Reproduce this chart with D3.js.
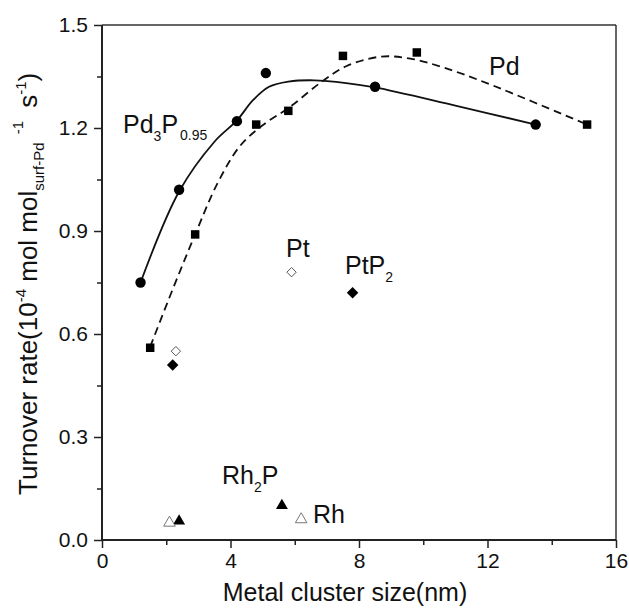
<!DOCTYPE html>
<html><head><meta charset="utf-8">
<script src="https://cdn.jsdelivr.net/npm/d3@7"></script>
<style>
body{margin:0;background:#fff;}
text{font-family:"Liberation Sans",Arial,sans-serif;fill:#111;}
</style></head>
<body><svg id="c" width="629" height="609"></svg>
<script>
// ---- data ----
const pd3pX = [1.2, 2.4, 4.2, 5.1, 8.5, 13.5];
const pd3pY = [0.75, 1.02, 1.22, 1.36, 1.32, 1.21];
const pdX = [1.5, 2.9, 4.8, 5.8, 7.5, 9.8, 15.1];
const pdY = [0.56, 0.89, 1.21, 1.25, 1.41, 1.42, 1.21];
const ptX = [2.3, 5.9];
const ptY = [0.55, 0.78];
const ptp2X = [2.2, 7.8];
const ptp2Y = [0.51, 0.72];
const rh2pX = [2.4, 5.6];
const rh2pY = [0.055, 0.10];
const rhX = [2.1, 6.2];
const rhY = [0.05, 0.06];
// fitted curves
const pd3pFitX = [1.2, 2.4, 3.5, 4.2, 4.7, 5.2, 5.8, 6.6, 7.6, 8.5, 11.0, 13.5];
const pd3pFitY = [0.75, 1.015, 1.16, 1.222, 1.281, 1.32, 1.335, 1.339, 1.331, 1.318, 1.265, 1.21];
const pdFitX = [1.5, 2.2, 2.9, 3.6, 4.3, 5.0, 5.86, 6.8, 7.6, 8.7, 9.6, 10.6, 12.0, 15.1];
const pdFitY = [0.563, 0.73, 0.89, 1.04, 1.148, 1.208, 1.262, 1.332, 1.38, 1.408, 1.402, 1.377, 1.33, 1.21];
const xTicks = [0, 4, 8, 12, 16];
const xMinor = [2, 6, 10, 14];
const yTicks = [0.0, 0.3, 0.6, 0.9, 1.2, 1.5];
const yMinor = [0.15, 0.45, 0.75, 1.05, 1.35];

// ---- layout ----
const L = 102, R = 616, T = 25, B = 540;
const svg = d3.select("#c");
const x = d3.scaleLinear().domain([0, 16]).range([L, R]);
const y = d3.scaleLinear().domain([0, 1.5]).range([B, T]);
const axCol = "#222";

// frame top/right
svg.append("line").attr("x1", L).attr("x2", R).attr("y1", T).attr("y2", T).attr("stroke", "#333").attr("stroke-width", 1.5);
svg.append("line").attr("x1", R).attr("x2", R).attr("y1", T).attr("y2", B).attr("stroke", "#333").attr("stroke-width", 1.5);

// axes
const gx = svg.append("g").attr("transform", `translate(0,${B})`)
  .call(d3.axisBottom(x).tickValues(xTicks).tickFormat(d3.format("d")).tickSize(8).tickPadding(5));
const gxm = svg.append("g").attr("transform", `translate(0,${B})`)
  .call(d3.axisBottom(x).tickValues(xMinor).tickFormat("").tickSize(5));
const gy = svg.append("g").attr("transform", `translate(${L},0)`)
  .call(d3.axisLeft(y).tickValues(yTicks).tickFormat(d3.format(".1f")).tickSize(8).tickPadding(6));
const gym = svg.append("g").attr("transform", `translate(${L},0)`)
  .call(d3.axisLeft(y).tickValues(yMinor).tickFormat("").tickSize(5));
[gx, gxm, gy, gym].forEach(g => {
  g.select(".domain").attr("stroke", axCol).attr("stroke-width", 2);
  g.selectAll(".tick line").attr("stroke", axCol).attr("stroke-width", 1.5);
  g.selectAll(".tick text").style("font-family", "Liberation Sans, Arial, sans-serif").style("font-size", "21px").attr("fill", "#111");
});
gx.selectAll(".domain").attr("d", `M${L},0H${R}`);
gy.selectAll(".domain").attr("d", `M0,${B}V${T}`);
gym.select(".domain").remove();
gxm.select(".domain").remove();

// curves
const line = d3.line().x(d => x(d[0])).y(d => y(d[1])).curve(d3.curveCatmullRom.alpha(0.5));
svg.append("path").attr("d", line(d3.zip(pd3pFitX, pd3pFitY)))
  .attr("fill", "none").attr("stroke", "#111").attr("stroke-width", 1.8);
svg.append("path").attr("d", line(d3.zip(pdFitX, pdFitY)))
  .attr("fill", "none").attr("stroke", "#111").attr("stroke-width", 1.8).attr("stroke-dasharray", "8,5");

// markers
const squareDiamond = { draw(ctx, size) { const r = Math.sqrt(size / 2); ctx.moveTo(0, -r); ctx.lineTo(r, 0); ctx.lineTo(0, r); ctx.lineTo(-r, 0); ctx.closePath(); } };
function pts(xs, ys, type, size, fill, stroke, sw) {
  svg.append("g").selectAll("path").data(d3.zip(xs, ys)).join("path")
    .attr("transform", d => `translate(${x(d[0])},${y(d[1])})`)
    .attr("d", d3.symbol().type(type).size(size))
    .attr("fill", fill).attr("stroke", stroke).attr("stroke-width", sw);
}
pts(pd3pX, pd3pY, d3.symbolCircle, 85, "#000", "none", 0);
pts(pdX, pdY, d3.symbolSquare, 72, "#000", "none", 0);
pts(ptX, ptY, squareDiamond, 44, "#fff", "#555", 1);
pts(ptp2X, ptp2Y, squareDiamond, 66, "#000", "none", 0);
pts(rh2pX, rh2pY, d3.symbolTriangle, 62, "#000", "none", 0);
pts(rhX, rhY, d3.symbolTriangle, 58, "#fff", "#777", 1);

// labels with subscripts
function label(px, py, parts) {
  const t = svg.append("text").attr("x", px).attr("y", py).style("font-size", "25px");
  parts.forEach(p => {
    const s = t.append("tspan").text(p[0]);
    if (p[1] === "sub") s.style("font-size", "14px").attr("dy", 8);
    else if (p[1] === "back") s.attr("dy", -8);
    else if (p[1] === "sub2") s.style("font-size", "14px").attr("dy", 7).attr("dx", 2);
  });
}
label(123, 133, [["Pd"], ["3", "sub"], ["P", "back"], ["0.95", "sub2"]]);
label(489, 75, [["Pd"]]);
label(286, 257, [["Pt"]]);
label(345, 274, [["PtP"], ["2", "sub"]]);
label(222, 484, [["Rh"], ["2", "sub"], ["P", "back"]]);
label(313, 523, [["Rh"]]);

// x title
svg.append("text").attr("x", 345).attr("y", 601).attr("text-anchor", "middle")
  .style("font-size", "25px").text("Metal cluster size(nm)");

// y title
const yt = svg.append("text").attr("transform", "translate(37,495) rotate(-90)").style("font-size", "26px");
yt.append("tspan").text("Turnover rate(10");
yt.append("tspan").text("-4").style("font-size", "15px").attr("dy", -11);
yt.append("tspan").text(" mol mol").attr("dy", 11);
yt.append("tspan").text("surf-Pd").style("font-size", "15px").attr("dy", 7);
yt.append("tspan").text("-1").style("font-size", "15px").attr("dy", -21).attr("dx", 8);
yt.append("tspan").text(" s").attr("dy", 14).attr("dx", 6);
yt.append("tspan").text("-1").style("font-size", "15px").attr("dy", -11);
yt.append("tspan").text(")").attr("dy", 11);
</script></body></html>
